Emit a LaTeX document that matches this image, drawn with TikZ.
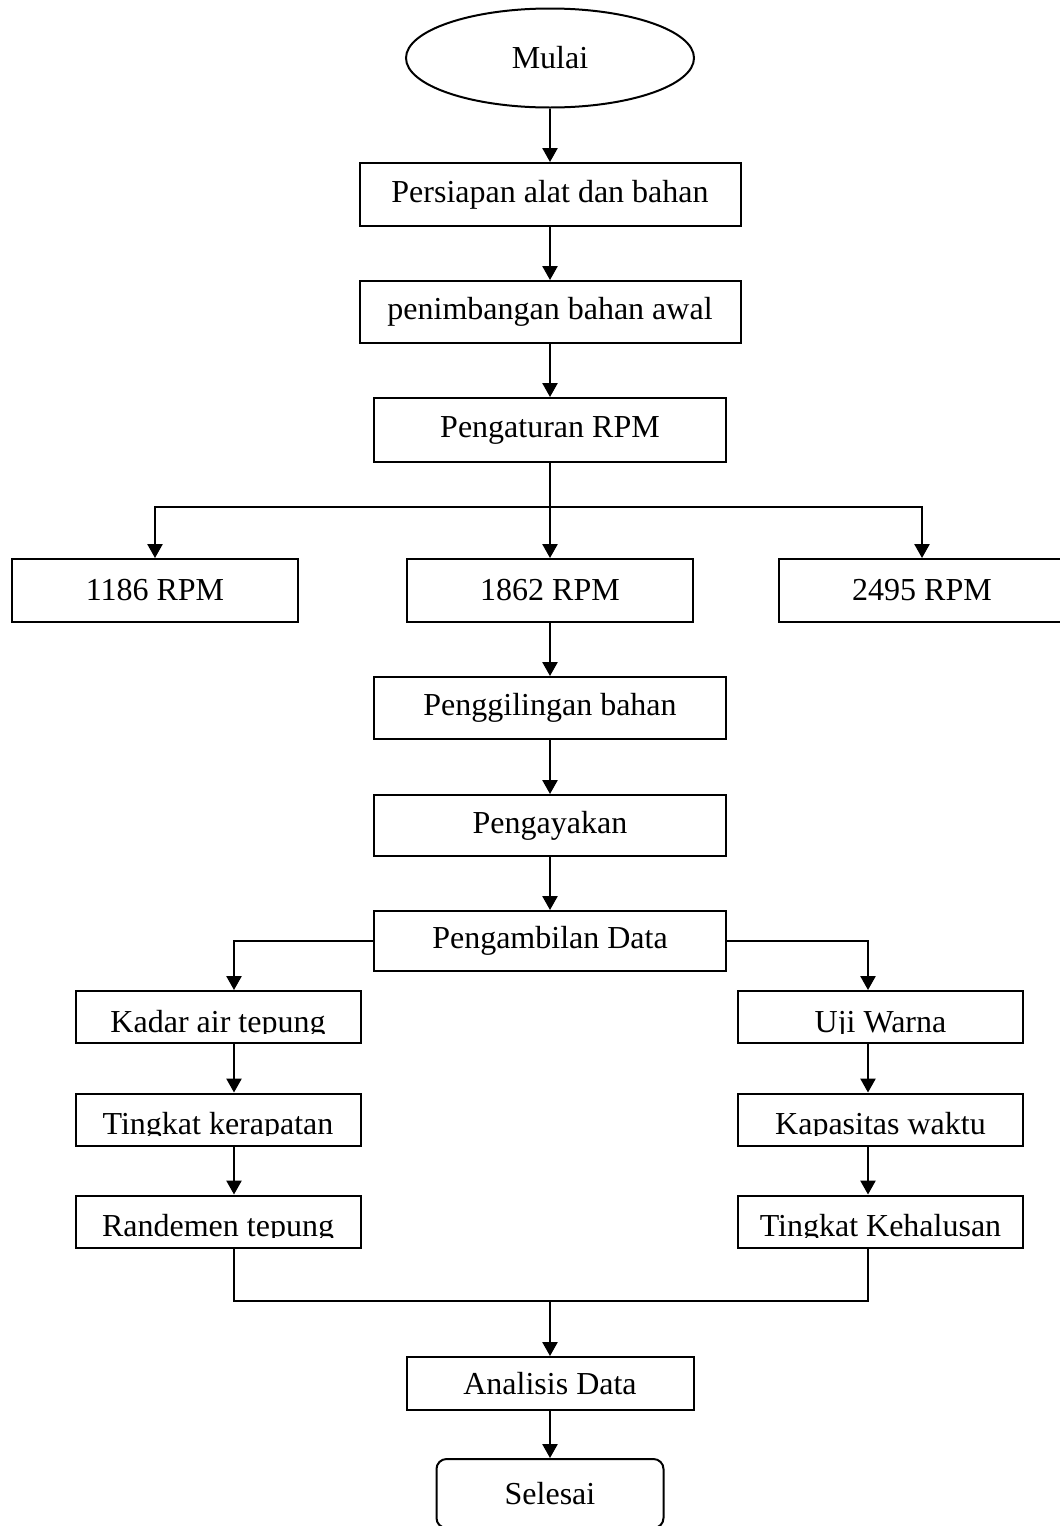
\documentclass[tikz,border=0pt]{standalone}
\usepackage{fontspec}
\setmainfont{Liberation Serif}
\usetikzlibrary{shapes.geometric,arrows.meta}

\tikzset{
  terminal/.style={draw,ellipse,line width=1pt,minimum width=144pt,minimum height=49.5pt,inner sep=0pt},
  process/.style={draw,rectangle,line width=1pt,minimum width=176pt,minimum height=31pt,inner sep=0pt},
  rpm/.style={process,minimum width=143pt,minimum height=31.5pt},
  sidebox/.style={process,minimum width=142.5pt,minimum height=26pt},
  finish/.style={process,rounded corners=5pt,minimum width=113.5pt,minimum height=34.5pt},
  conn/.style={line width=1pt},
  flow/.style={conn,-{Triangle[width=7.6pt,length=7pt]}}
}

\newcommand{\cutnode}[3]{%
  \node[sidebox] (#1) at (#2) {};
  \begin{scope}
    \clip ([yshift=5.4pt]#1.south west) rectangle (#1.north east);
    \node[anchor=base,inner sep=0pt] (#1-text) at ([yshift=5.8pt]#1.south) {#3};
  \end{scope}}

\begin{document}
\begin{tikzpicture}[x=0.5pt,y=-0.5pt,font=\fontsize{16}{19}\selectfont]
  \useasboundingbox (0,0) rectangle (1060,1526);
  \node[terminal] (mulai) at (550,58) {Mulai};
  \node[process,minimum width=190.5pt,minimum height=31.5pt] (persiapan) at (550,194.5) {Persiapan alat dan bahan};
  \node[process,minimum width=190.5pt] (penimbangan) at (550,312) {penimbangan bahan awal};
  \node[process,minimum height=32pt] (pengaturan) at (550,430) {Pengaturan RPM};
  \coordinate (split) at (550,507);
  \node[rpm] (rpm1186) at (155,590.5) {1186 RPM};
  \node[rpm] (rpm1862) at (550,590.5) {1862 RPM};
  \node[rpm] (rpm2495) at (922,590.5) {2495 RPM};
  \node[process] (penggilingan) at (550,708) {Penggilingan bahan};
  \node[process,minimum height=30.5pt] (pengayakan) at (550,825.5) {Pengayakan};
  \node[process,minimum height=30pt] (pengambilan) at (550,941) {Pengambilan Data};
  \coordinate (colL) at (234,941);
  \coordinate (colR) at (868,941);
  \cutnode{kadar}{218,1017}{Kadar air tepung}
  \cutnode{kerapatan}{218,1119.5}{Tingkat kerapatan}
  \cutnode{randemen}{218,1221.5}{Randemen tepung}
  \cutnode{uji}{880.5,1017}{Uji Warna}
  \cutnode{kapasitas}{880.5,1119.5}{Kapasitas waktu}
  \cutnode{kehalusan}{880.5,1221.5}{Tingkat Kehalusan}
  \coordinate (join) at (550,1301);
  \node[process,minimum width=143.5pt,minimum height=26.5pt] (analisis) at (550,1383.5) {Analisis Data};
  \node[finish] (selesai) at (550,1493.5) {Selesai};

  \draw[flow] (mulai) -- (persiapan);
  \draw[flow] (persiapan) -- (penimbangan);
  \draw[flow] (penimbangan) -- (pengaturan);
  \draw[conn] (pengaturan) -- (split);
  \draw[flow] (split) -| (rpm1186);
  \draw[flow] (split) -- (rpm1862);
  \draw[flow] (split) -| (rpm2495);
  \draw[flow] (rpm1862) -- (penggilingan);
  \draw[flow] (penggilingan) -- (pengayakan);
  \draw[flow] (pengayakan) -- (pengambilan);
  \draw[flow] (pengambilan.west) -| (colL |- kadar.north);
  \draw[flow] (pengambilan.east) -| (colR |- uji.north);
  \draw[flow] (kadar.south -| colL) -- (kerapatan.north -| colL);
  \draw[flow] (kerapatan.south -| colL) -- (randemen.north -| colL);
  \draw[flow] (uji.south -| colR) -- (kapasitas.north -| colR);
  \draw[flow] (kapasitas.south -| colR) -- (kehalusan.north -| colR);
  \draw[conn] (randemen.south -| colL) |- (join) -| (kehalusan.south -| colR);
  \draw[flow] (join) -- (analisis);
  \draw[flow] (analisis) -- (selesai);
\end{tikzpicture}
\end{document}
